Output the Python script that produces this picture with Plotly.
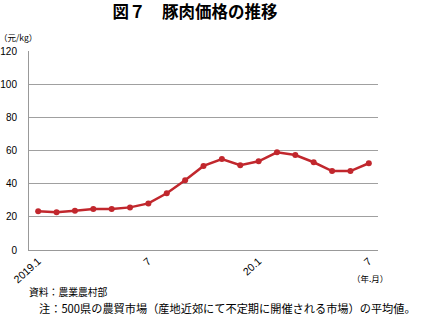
import plotly.graph_objects as go

months = ["2019.1","2","3","4","5","6","7","8","9","10","11","12",
          "20.1","2","3","4","5","6","7"]
cats = [f"m{i}" for i in range(len(months))]
prices = [23.3, 22.8, 23.7, 24.7, 24.7, 25.7, 28.1, 34.2, 42.0, 50.7, 54.9,
          51.1, 53.5, 58.9, 57.3, 52.9, 47.6, 47.6, 52.3]
tick_idx = [0, 6, 12, 18]
tick_text = ["2019.1", "7", "20.1", "7"]
y_ticks = [0, 20, 40, 60, 80, 100, 120]

JP = "Noto Sans CJK JP"
RED = "#c1272d"

fig = go.Figure()
fig.add_trace(go.Scatter(
    x=cats, y=prices, mode="lines+markers",
    line=dict(color=RED, width=2.5),
    marker=dict(color=RED, size=6),
    showlegend=False, hoverinfo="skip",
))

fig.update_layout(
    width=440, height=324,
    margin=dict(l=29, r=62, t=51, b=74, autoexpand=False),
    paper_bgcolor="white", plot_bgcolor="white",
    font=dict(family="Liberation Sans, Arial", size=10, color="black"),
    title=dict(text="<b>図７　豚肉価格の推移</b>", x=0.443, xanchor="center",
               y=0.963, yanchor="middle",
               font=dict(family=JP, size=16.5, color="black")),
    xaxis=dict(type="category", categoryorder="array", categoryarray=cats,
               range=[-0.5, len(cats) - 0.5], automargin=False,
               tickmode="array", tickvals=[cats[i] for i in tick_idx],
               ticktext=tick_text, tickangle=-42,
               showgrid=False, showline=True, linecolor="#999999", linewidth=1,
               ticks="", tickfont=dict(size=10.5), zeroline=False),
    yaxis=dict(range=[0, 120], tickmode="array", tickvals=y_ticks,
               automargin=False,
               showgrid=True, gridcolor="#a0a0a0", gridwidth=1,
               showline=True, linecolor="#999999", linewidth=1,
               ticks="", ticklabelstandoff=9, tickfont=dict(size=10),
               zeroline=False),
)

fig.add_annotation(text="（元/kg）", xref="paper", yref="paper", x=-0.092, y=1.072,
                   xanchor="left", yanchor="middle", showarrow=False,
                   font=dict(family=JP, size=8.5, color="black"))
fig.add_annotation(text="（年.月）", xref="paper", yref="paper", x=1.035, y=-0.142,
                   xanchor="right", yanchor="middle", showarrow=False,
                   font=dict(family=JP, size=8.5, color="black"))
fig.add_annotation(text="資料：農業農村部", xref="paper", yref="paper",
                   x=-0.006, y=-0.209, xanchor="left", yanchor="middle",
                   showarrow=False, font=dict(family=JP, size=9.8, color="black"))
fig.add_annotation(text="注：500県の農貿市場（産地近郊にて不定期に開催される市場）の平均値。",
                   xref="paper", yref="paper", x=0.023, y=-0.291,
                   xanchor="left", yanchor="middle", showarrow=False,
                   font=dict(family=JP, size=11.2, color="black"))

fig.write_html("out.html")
